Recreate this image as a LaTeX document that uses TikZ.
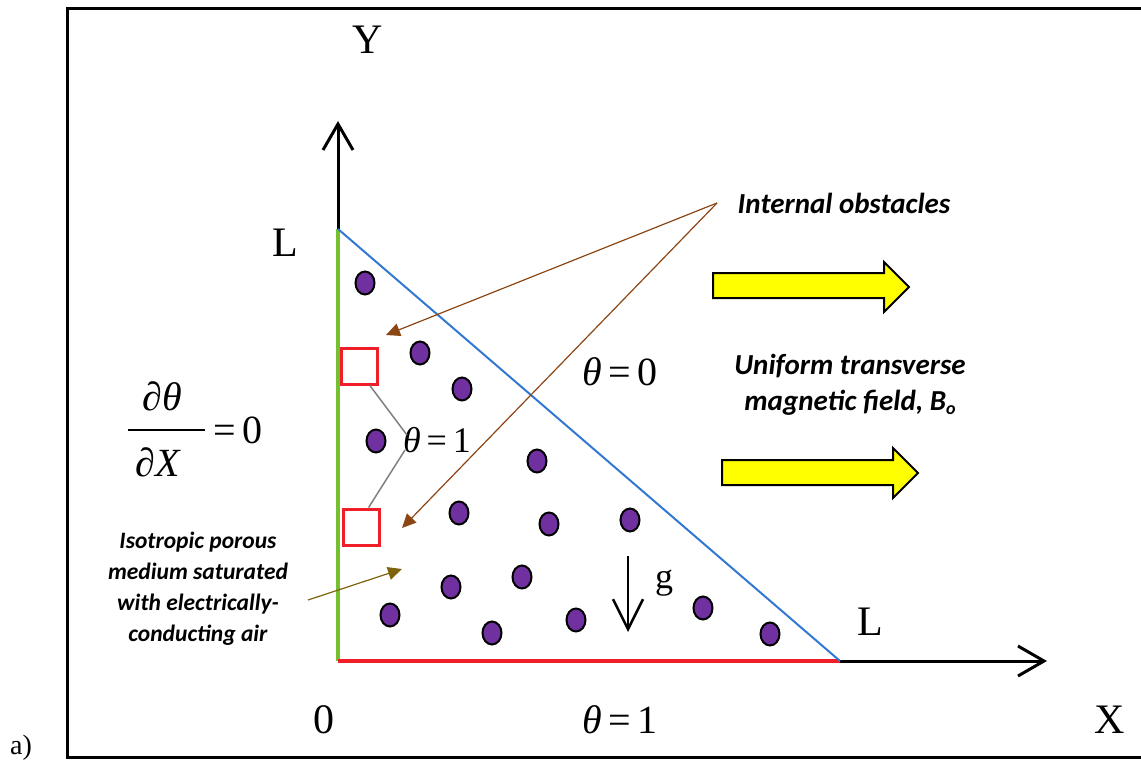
\documentclass[tikz,border=0pt]{standalone}
\usepackage{fontspec}
\setmainfont{Liberation Serif}
\newfontfamily\calib{Carlito}
\usetikzlibrary{arrows.meta,shapes.geometric}
\definecolor{dotpurple}{RGB}{112,48,160}
\definecolor{wallgreen}{RGB}{118,190,50}
\definecolor{wallred}{RGB}{240,30,40}
\definecolor{wallblue}{RGB}{50,120,210}
\definecolor{brownarr}{RGB}{140,70,20}
\definecolor{olivearr}{RGB}{125,100,10}
\definecolor{lemon}{RGB}{255,255,0}
\begin{document}
\begin{tikzpicture}[x=1pt,y=-1pt,
  axislbl/.style={font=\fontsize{42}{42}\selectfont, inner sep=0pt},
  thlbl/.style={font=\fontsize{40}{40}\selectfont, inner sep=0pt},
  note/.style={font=\calib\bfseries\itshape\fontsize{29}{36}\selectfont, align=center, inner sep=0pt},
  smallnote/.style={font=\calib\bfseries\itshape\fontsize{23.5}{31}\selectfont, align=center, inner sep=0pt},
  axisline/.style={line width=3pt, -{Straight Barb[length=26pt,width=30pt,line width=3pt]}},
  dotnode/.style={ellipse, draw=black, fill=dotpurple, line width=2pt, minimum width=19pt, minimum height=23pt, inner sep=0pt},
  obst/.style={draw=wallred, line width=3pt, minimum size=36pt, inner sep=0pt},
  pointer/.style={line width=1.2pt, -{Triangle[length=14pt,width=13pt]}},
  yarrow/.style={draw=black, fill=lemon, line width=2pt, line join=miter}
]
\useasboundingbox (0,0) rectangle (1141,763);
% frame
\draw[line width=3pt] (1145,8) -- (67,8) -- (67,757) -- (1145,757);
\node[font=\fontsize{28}{28}\selectfont, inner sep=0pt] (alab) at (21,748) {a)};

% corners
\coordinate (O) at (338,661);
\coordinate (T) at (338,229);
\coordinate (R) at (840,661);
\coordinate (Ytip) at (338,121);
\coordinate (Xtip) at (1047,661);

% axes
\draw[axisline] (T) -- (Ytip);
\draw[axisline] (R) -- (Xtip);
% walls
\draw[wallgreen, line width=4pt] (O) -- (T);
\draw[wallred, line width=4pt] (O) -- (R);
\draw[wallblue, line width=2pt] (T) -- (R);

% axis labels
\node[axislbl] (ylab) at (368,40) {Y};
\node[axislbl] (xlab) at (1110,720) {X};
\node[axislbl] (olab) at (324,720) {0};
\node[axislbl] (ltop) at (285,243) {L};
\node[axislbl] (lright) at (870,622) {L};

% boundary conditions
\node[thlbl] (th0) at (620,372) {\textit{θ}\,=\,0};
\node[thlbl] (thb) at (620,720) {\textit{θ}\,=\,1};
\node[font=\fontsize{36}{36}\selectfont, inner sep=0pt] (th1) at (437,440) {\textit{θ}\,=\,1};

% dtheta/dX = 0
\node[thlbl] (num) at (162,396) {∂\textit{θ}};
\node[thlbl] (den) at (158,462) {∂\textit{X}};
\coordinate (barL) at (128,430);
\coordinate (barR) at (205,430);
\draw[line width=2.5pt] (barL) -- (barR);
\node[thlbl, anchor=west] (eq0) at (213,430) {=\,0};

% obstacles
\node[obst] (sq1) at (359.5,366) {};
\node[obst] (sq2) at (361.5,527) {};
\coordinate (th1a) at (407,435);
\coordinate (th1b) at (405,450);
\draw[gray, line width=1.5pt] (sq1.-62) -- (th1a);
\draw[gray, line width=1.5pt] (sq2.70) -- (th1b);

% porous particles
\foreach \x/\y [count=\i] in {365/283, 420/353, 462/389, 376/441, 537/461, 459/513, 549/524, 630/520, 522/577, 451/587, 390/615, 492/633, 576/620, 703/608, 770/634}
  \node[dotnode] (d\i) at (\x,\y) {};

% gravity
\coordinate (gS) at (628,556);
\coordinate (gE) at (628,632);
\draw[line width=2.5pt, -{Straight Barb[length=30pt,width=30pt,line width=2.5pt]}] (gS) -- (gE);
\node[font=\fontsize{36}{36}\selectfont, inner sep=0pt] (glab) at (664,583) {g};

% internal obstacles note
\node[note] (intobs) at (844,203) {Internal obstacles};
\coordinate (ioS) at (717,203);
\coordinate (ioT1) at (386,335);
\coordinate (ioT2) at (402,528);
\draw[brownarr, pointer] (ioS) -- (ioT1);
\draw[brownarr, pointer] (ioS) -- (ioT2);

% magnetic field
\node[note] (mag) at (850,385) {Uniform transverse\\magnetic field, B\raisebox{-0.3ex}{\fontsize{18}{18}\selectfont o}};
\draw[yarrow] (713,273) -- (884,273) -- (884,262) -- (909,287) -- (884,312) -- (884,298) -- (713,298) -- cycle;
\draw[yarrow] (722,460) -- (893,460) -- (893,448) -- (918,473) -- (893,498) -- (893,485) -- (722,485) -- cycle;

% porous medium note
\node[smallnote] (iso) at (198,589) {Isotropic porous\\medium saturated\\with electrically-\\conducting air};
\coordinate (isoS) at (308,600);
\coordinate (isoT) at (402,569);
\draw[olivearr, pointer] (isoS) -- (isoT);
\end{tikzpicture}
\end{document}
